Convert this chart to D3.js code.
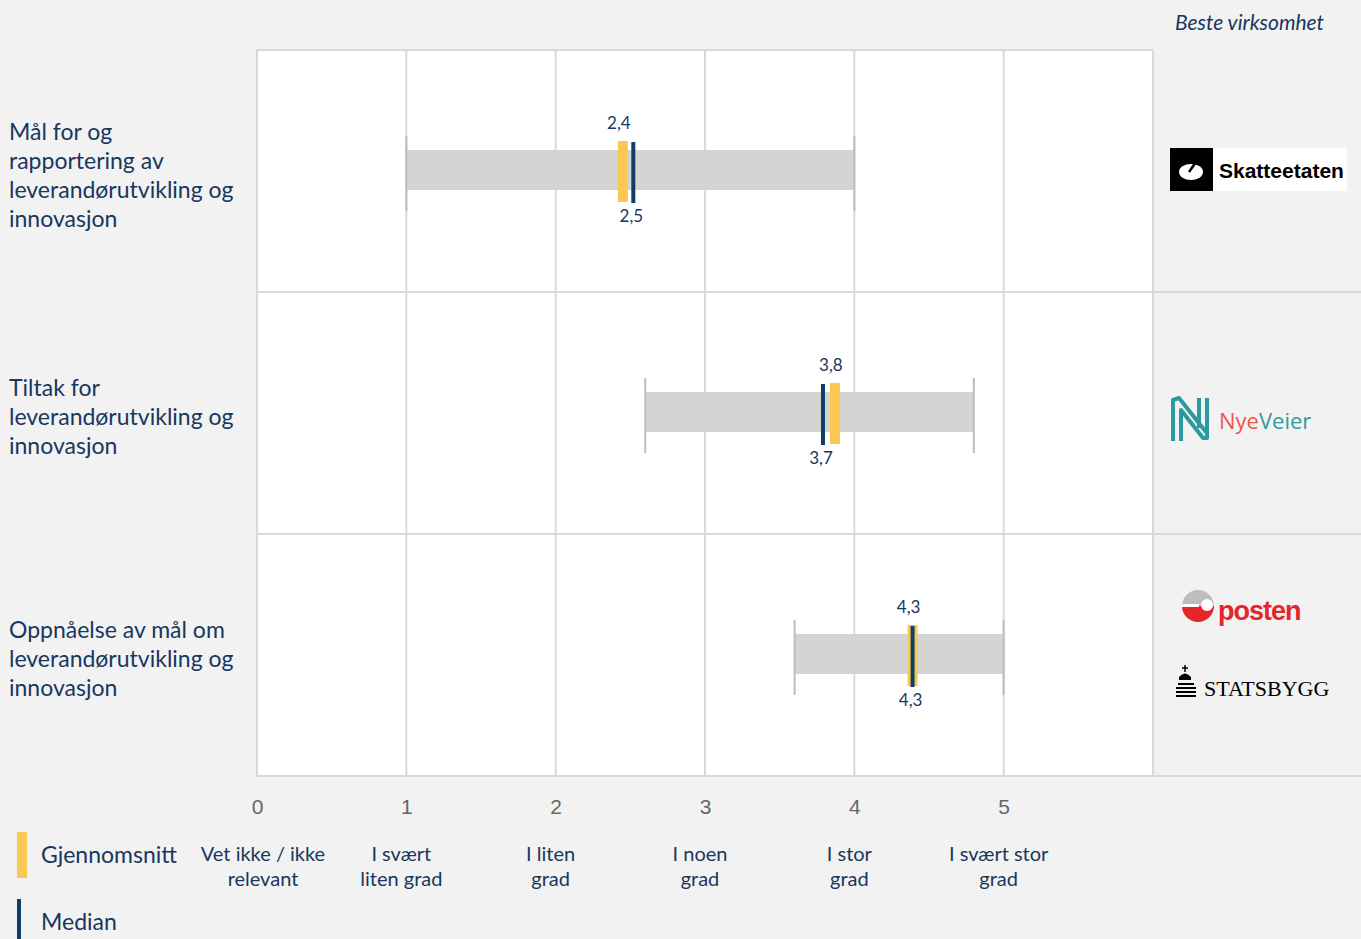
<!DOCTYPE html>
<html><head><meta charset="utf-8">
<script src="https://cdn.jsdelivr.net/npm/d3@7"></script>
<style>
html,body{margin:0;padding:0;background:#f2f2f2;}
svg{display:block;}
</style></head>
<body>
<svg id="chart" width="1361" height="939"></svg>
<script>
// ---- data ----
const categories = [
  ["Mål for og", "rapportering av", "leverandørutvikling og", "innovasjon"],
  ["Tiltak for", "leverandørutvikling og", "innovasjon"],
  ["Oppnåelse av mål om", "leverandørutvikling og", "innovasjon"]
];
const rangeMin = [1.0, 2.6, 3.6];
const rangeMax = [4.0, 4.8, 5.0];
const meanValues = [2.45, 3.87, 4.39];
const medianValues = [2.52, 3.79, 4.39];
const meanLabels = ["2,4", "3,8", "4,3"];
const medianLabels = ["2,5", "3,7", "4,3"];
const tickValues = [0, 1, 2, 3, 4, 5];
const tickLabels = [
  ["Vet ikke / ikke", "relevant"],
  ["I svært", "liten grad"],
  ["I liten", "grad"],
  ["I noen", "grad"],
  ["I stor", "grad"],
  ["I svært stor", "grad"]
];
const legendItems = ["Gjennomsnitt", "Median"];

// ---- layout ----
const navy = "#17375e", markNavy = "#0f3f66", yellow = "#fbc851";
const font = "Lato, 'Open Sans', sans-serif";
const svg = d3.select("#chart");
const x = d3.scaleLinear().domain([0, 6]).range([257, 1153]);
const y = d3.scaleBand().domain(d3.range(categories.length)).range([50, 776]).padding(0);

// plot background
svg.append("rect").attr("x", x(0)).attr("y", 50).attr("width", x(6) - x(0)).attr("height", 726).attr("fill", "#fff");

// grid lines
svg.append("g").selectAll("line").data(tickValues.slice(1)).join("line")
  .attr("x1", d => x(d)).attr("x2", d => x(d)).attr("y1", 50).attr("y2", 776)
  .attr("stroke", "#d9d9d9").attr("stroke-width", 2);

// row dividers (extend into logo column)
svg.append("g").selectAll("line").data(d3.range(1, categories.length + 1)).join("line")
  .attr("x1", x(0)).attr("x2", 1361)
  .attr("y1", d => d === categories.length ? 776 : y(d)).attr("y2", d => d === categories.length ? 776 : y(d))
  .attr("stroke", "#d9d9d9").attr("stroke-width", 2);
// frame
svg.append("line").attr("x1", x(0)).attr("x2", x(6)).attr("y1", 50).attr("y2", 50).attr("stroke", "#d9d9d9").attr("stroke-width", 2);
svg.append("line").attr("x1", x(0)).attr("x2", x(0)).attr("y1", 49).attr("y2", 777).attr("stroke", "#d9d9d9").attr("stroke-width", 2);
svg.append("line").attr("x1", x(6)).attr("x2", x(6)).attr("y1", 49).attr("y2", 777).attr("stroke", "#d9d9d9").attr("stroke-width", 2);

const rowC = i => y(i) + y.bandwidth() / 2;
const rows = d3.range(categories.length);

// range bars
svg.append("g").selectAll("rect").data(rows).join("rect")
  .attr("x", i => x(rangeMin[i])).attr("width", i => x(rangeMax[i]) - x(rangeMin[i]))
  .attr("y", i => rowC(i) - 21).attr("height", 40).attr("fill", "#d4d4d4");
// whiskers
const wh = svg.append("g");
rows.forEach(i => {
  [rangeMin[i], rangeMax[i]].forEach(v => {
    wh.append("line").attr("x1", x(v)).attr("x2", x(v))
      .attr("y1", rowC(i) - 35).attr("y2", rowC(i) + 40)
      .attr("stroke", "#bdbdbd").attr("stroke-width", 2);
  });
});
// mean marks
svg.append("g").selectAll("rect").data(rows).join("rect")
  .attr("x", i => x(meanValues[i]) - 5).attr("width", 10)
  .attr("y", i => rowC(i) - 30).attr("height", 61).attr("fill", yellow);
// median marks
svg.append("g").selectAll("rect").data(rows).join("rect")
  .attr("x", i => x(medianValues[i]) - 2).attr("width", 4)
  .attr("y", i => rowC(i) - 29).attr("height", 61).attr("fill", markNavy);
// value labels
svg.append("g").selectAll("text").data(rows).join("text")
  .attr("x", i => x(meanValues[i]) - 4).attr("y", i => rowC(i) - 42)
  .attr("text-anchor", "middle").attr("font-family", font)
  .attr("font-size", 17).attr("fill", navy).text(i => meanLabels[i]);
svg.append("g").selectAll("text").data(rows).join("text")
  .attr("x", i => x(medianValues[i]) - 2).attr("y", i => rowC(i) + 51)
  .attr("text-anchor", "middle").attr("font-family", font)
  .attr("font-size", 17).attr("fill", navy).text(i => medianLabels[i]);

// row labels
rows.forEach(i => {
  const lines = categories[i];
  const lh = 29;
  const t = svg.append("text").attr("font-family", font)
    .attr("font-size", 23).attr("fill", navy);
  const top = rowC(i) + 12 - (lines.length - 1) * lh / 2;
  lines.forEach((l, k) => {
    t.append("tspan").attr("x", 9).attr("y", top + k * lh).text(l);
  });
});

// axis numbers
const axis = d3.axisBottom(x).tickValues(tickValues).tickSize(0).tickPadding(0).tickFormat(d3.format("d"));
const ag = svg.append("g").attr("transform", "translate(0,799)").call(axis);
ag.select(".domain").remove();
ag.selectAll("text").attr("font-family", "'Liberation Sans', Arial, sans-serif")
  .attr("font-size", 21).attr("fill", "#666").attr("dy", "0.71em");

// category labels under axis
tickValues.forEach((v, k) => {
  const t = svg.append("text").attr("text-anchor", "middle")
    .attr("font-family", font).attr("font-size", 20).attr("fill", navy);
  tickLabels[k].forEach((l, j) => {
    t.append("tspan").attr("x", x(v) + (k === 0 ? 6 : -5)).attr("y", 861 + j * 25).text(l);
  });
});

// legend
svg.append("rect").attr("x", 17).attr("y", 832).attr("width", 10).attr("height", 46).attr("fill", yellow);
svg.append("rect").attr("x", 17).attr("y", 899).attr("width", 4).attr("height", 40).attr("fill", markNavy);
svg.append("text").attr("x", 41).attr("y", 863).attr("font-family", font)
  .attr("font-size", 23).attr("fill", navy).text(legendItems[0]);
svg.append("text").attr("x", 41).attr("y", 930).attr("font-family", font)
  .attr("font-size", 23).attr("fill", navy).text(legendItems[1]);

// header
svg.append("text").attr("x", 1324).attr("y", 30).attr("text-anchor", "end")
  .attr("font-family", font).attr("font-style", "italic")
  .attr("font-size", 21).attr("fill", navy).text("Beste virksomhet");

// ---- logos ----
// Skatteetaten
const sk = svg.append("g");
sk.append("rect").attr("x", 1170).attr("y", 148).attr("width", 43).attr("height", 43).attr("fill", "#000");
sk.append("rect").attr("x", 1213).attr("y", 148).attr("width", 134).attr("height", 43).attr("fill", "#fff");
sk.append("ellipse").attr("cx", 1191).attr("cy", 172).attr("rx", 12).attr("ry", 8).attr("fill", "#fff");
sk.append("line").attr("x1", 1189).attr("y1", 172).attr("x2", 1196).attr("y2", 162).attr("stroke", "#000").attr("stroke-width", 2.5);
sk.append("text").attr("x", 1219).attr("y", 178).attr("font-family", "'Liberation Sans', Arial, sans-serif")
  .attr("font-weight", "bold").attr("font-size", 21).attr("fill", "#000").text("Skatteetaten");

// Nye Veier
const nv = svg.append("g");
nv.append("path").attr("d", "M1173,441 L1173,400 L1179,398 L1206,432 M1181,441 L1181,410 L1203,438 L1207,438 L1207,398 M1199,398 L1199,428")
  .attr("fill", "none").attr("stroke", "#2a9aa0").attr("stroke-width", 4).attr("stroke-linejoin", "round");
const nvt = nv.append("text").attr("x", 1219).attr("y", 429).attr("font-family", "'Open Sans', sans-serif").attr("font-size", 22);
nvt.append("tspan").attr("fill", "#f0554a").text("Nye");
nvt.append("tspan").attr("fill", "#2e9ba3").text("Veier");

// Posten
const po = svg.append("g");
const arcTop = d3.arc().innerRadius(0).outerRadius(16).startAngle(-Math.PI / 2).endAngle(Math.PI / 2);
const arcBot = d3.arc().innerRadius(0).outerRadius(16).startAngle(Math.PI / 2).endAngle(3 * Math.PI / 2);
po.append("path").attr("d", arcTop()).attr("transform", "translate(1198,606)").attr("fill", "#bdbdbd");
po.append("path").attr("d", arcBot()).attr("transform", "translate(1198,606)").attr("fill", "#e4262a");
po.append("rect").attr("x", 1182).attr("y", 604).attr("width", 17).attr("height", 3).attr("fill", "#fff");
po.append("circle").attr("cx", 1207).attr("cy", 605).attr("r", 6).attr("fill", "#fff");
po.append("text").attr("x", 1218).attr("y", 620).attr("font-family", "'Liberation Sans', Arial, sans-serif")
  .attr("font-weight", "bold").attr("font-size", 27).attr("letter-spacing", -1).attr("fill", "#e4262a").text("posten");

// Statsbygg
const sb = svg.append("g");
sb.append("path").attr("d", "M1179,677 Q1185,670 1191,677 L1191,680 L1179,680 Z").attr("fill", "#000");
sb.append("line").attr("x1", 1185).attr("x2", 1185).attr("y1", 665).attr("y2", 672).attr("stroke", "#000").attr("stroke-width", 1.5);
sb.append("line").attr("x1", 1182).attr("x2", 1188).attr("y1", 668).attr("y2", 668).attr("stroke", "#000").attr("stroke-width", 1.5);
[683, 687, 691, 695].forEach((yy, k) => {
  sb.append("rect").attr("x", 1176 + (k === 0 ? 2 : 0)).attr("y", yy).attr("width", k === 0 ? 16 : 20).attr("height", 2).attr("fill", "#000");
});
sb.append("text").attr("x", 1204).attr("y", 696).attr("font-family", "'Liberation Serif', 'DejaVu Serif', serif")
  .attr("font-size", 22).attr("fill", "#000").text("STATSBYGG");
</script>
</body></html>
